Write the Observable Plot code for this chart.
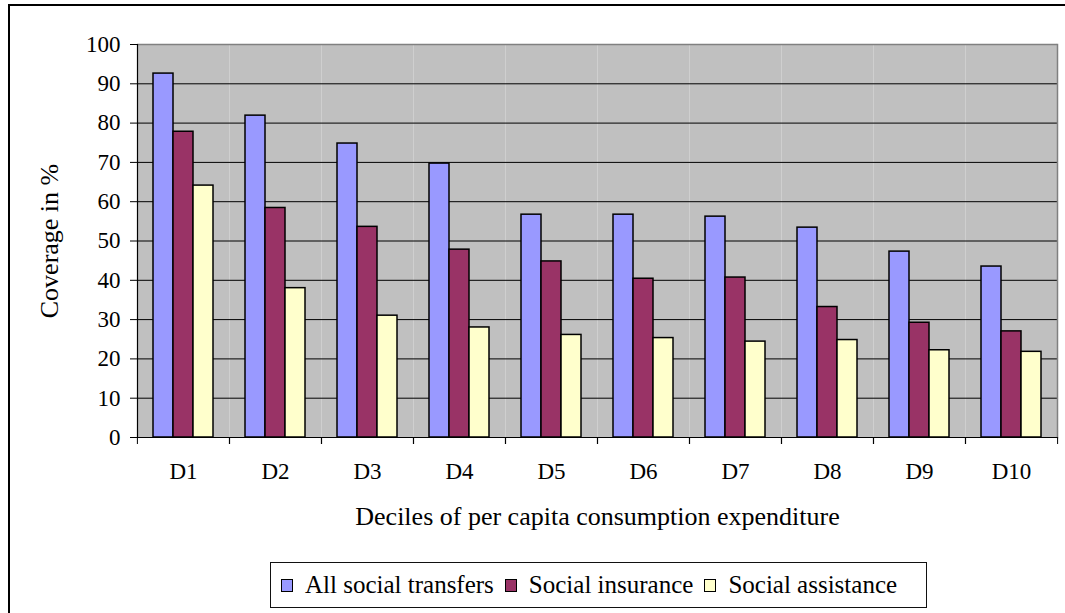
<!DOCTYPE html>
<html>
<head>
<meta charset="utf-8">
<script src="https://cdn.jsdelivr.net/npm/d3@7"></script>
<script src="https://cdn.jsdelivr.net/npm/@observablehq/plot@0.6"></script>
<style>
  html, body { margin: 0; padding: 0; background: #fff; overflow: hidden; }
  #wrap { position: relative; width: 1065px; height: 613px; overflow: hidden; font-family: "Liberation Serif", "Times New Roman", serif; }
  #border { position: absolute; left: 8px; top: 4px; width: 1070px; height: 620px; border: 2px solid #000; box-sizing: border-box; }
  #chart { position: absolute; left: 0; top: 0; }
  #legend { position: absolute; left: 270px; top: 562px; width: 657px; height: 46px; border: 1px solid #111; box-sizing: border-box;
            display: flex; align-items: center; padding-left: 10px; font-size: 25px; color: #000; background: #fff;
            font-family: "Liberation Serif", "Times New Roman", serif; }
  .item { display: flex; align-items: center; margin-right: 11px; white-space: nowrap; }
  .sw { width: 12px; height: 13px; border: 1px solid #000; margin-right: 12px; box-sizing: border-box; }
</style>
</head>
<body>
<div id="wrap">
  <div id="border"></div>
  <div id="chart"></div>
  <div id="legend"></div>
</div>
<script>
const deciles = ["D1", "D2", "D3", "D4", "D5", "D6", "D7", "D8", "D9", "D10"];
const seriesNames = ["All social transfers", "Social insurance", "Social assistance"];
const allTransfers = [92.6, 81.9, 74.8, 69.7, 56.7, 56.7, 56.2, 53.4, 47.3, 43.5];
const socialInsurance = [77.8, 58.4, 53.6, 47.8, 44.8, 40.4, 40.7, 33.2, 29.2, 27.0];
const socialAssistance = [64.1, 38.0, 31.0, 28.0, 26.1, 25.3, 24.4, 24.8, 22.2, 21.8];
const seriesColors = ["#9999FF", "#993366", "#FFFFCC"];
const yTicks = [0, 10, 20, 30, 40, 50, 60, 70, 80, 90, 100];
const yTitle = "Coverage in %";
const xTitle = "Deciles of per capita consumption expenditure";

const seriesValues = [allTransfers, socialInsurance, socialAssistance];
const data = deciles.flatMap((d, i) =>
  seriesNames.map((s, j) => ({decile: d, series: s, value: seriesValues[j][i]}))
);

const chart = Plot.plot({
  width: 1065,
  height: 545,
  marginLeft: 136,
  marginRight: 7,
  marginTop: 44,
  marginBottom: 108,
  style: {fontFamily: "Liberation Serif, Times New Roman, serif", fontSize: "23px", color: "#000", background: "transparent", overflow: "visible"},
  fx: {domain: deciles, padding: 0, axis: null, label: null},
  x: {domain: seriesNames, paddingInner: 0, paddingOuter: 0.75, axis: null},
  y: {domain: [0, 100], axis: null},
  color: {domain: seriesNames, range: seriesColors},
  marks: [
    Plot.frame({fill: "#C0C0C0"}),
    Plot.gridY(yTicks.slice(1, -1), {stroke: "#000", strokeOpacity: 1, strokeWidth: 1}),
    Plot.barY(data, {fx: "decile", x: "series", y: "value", fill: "series", stroke: "#000", strokeWidth: 1.5}),
    Plot.ruleY([100], {stroke: "#808080", strokeWidth: 1.5}),
    Plot.frame({facet: "super", anchor: "right", stroke: "#808080", strokeWidth: 1.5}),
    Plot.ruleY([0], {stroke: "#000", strokeWidth: 1.2}),
    Plot.frame({facet: "super", anchor: "left", stroke: "#000", strokeWidth: 1.2}),
    Plot.axisY(yTicks, {anchor: "left", tickSize: 7, tickPadding: 10, label: null, fontSize: 23}),
    Plot.axisY({anchor: "left", ticks: [], label: yTitle, labelArrow: "none", labelAnchor: "center", labelOffset: 98, fontSize: 26}),
    Plot.axisFx({anchor: "bottom", tickSize: 0, tickPadding: 25, label: null, fontSize: 23}),
    Plot.axisFx({anchor: "bottom", tickSize: 7, tickFormat: null, label: null, dx: -46.1}),
    Plot.axisFx(deciles.slice(-1), {anchor: "bottom", tickSize: 7, tickFormat: null, label: null, dx: 46.1}),
    Plot.axisFx({anchor: "bottom", ticks: [], label: xTitle, labelArrow: "none", labelAnchor: "center", labelOffset: 87, fontSize: 26})
  ]
});
document.getElementById("chart").appendChild(chart);

const legend = d3.select("#legend");
seriesNames.forEach((s, i) => {
  const item = legend.append("div").attr("class", "item");
  item.append("div").attr("class", "sw").style("background", seriesColors[i]);
  item.append("span").text(s);
});
</script>
</body>
</html>
